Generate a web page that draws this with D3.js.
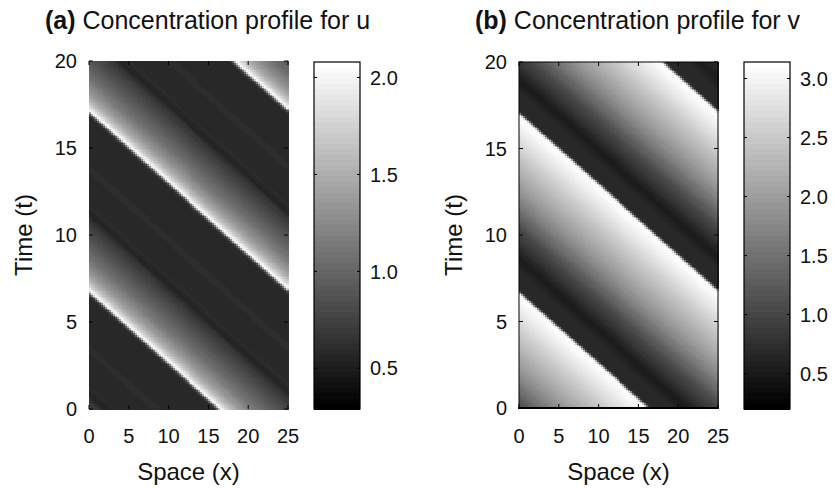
<!DOCTYPE html>
<html><head><meta charset="utf-8">
<script src="https://cdn.jsdelivr.net/npm/d3@7"></script>
<style>
html,body{margin:0;padding:0;background:#fff;}
text{font-family:"Liberation Sans",Arial,Helvetica,sans-serif;fill:#111;}
</style></head>
<body>
<svg id="chart" width="833" height="488"></svg>
<script>
// ---------------- DATA ----------------
const xTicks = [0, 5, 10, 15, 20, 25];
const tTicks = [0, 5, 10, 15, 20];
const uTicks = [0.5, 1.0, 1.5, 2.0];
const vTicks = [0.5, 1.0, 1.5, 2.0, 2.5, 3.0];
const uRange = [0.29, 2.08];
const vRange = [0.2, 3.14];
// wave fronts (time at which a front passes x = 0) and their slope dt/dx
const frontTimeAtX0 = 6.84;
const wavePeriod = 10.36;
const frontSlope = 0.41;
// profiles read along time-since-front (phase) at fixed x
const uPhase = [0, 0.1, 0.25, 0.5, 0.75, 1.0, 1.5, 2.0, 2.5, 3.0, 3.5, 4.0, 4.4, 4.8, 5.5, 7.0, 8.5, 9.5, 10.0, 10.15, 10.25, 10.32, 10.36];
const uValue = [2.08, 1.97, 1.80, 1.60, 1.46, 1.35, 1.19, 1.06, 0.96, 0.86, 0.77, 0.67, 0.54, 0.60, 0.585, 0.60, 0.585, 0.57, 0.585, 0.78, 1.34, 1.83, 2.08];
const vPhase = [0, 0.5, 1.2, 1.8, 2.3, 2.8, 3.5, 4.0, 5.0, 6.0, 7.0, 8.0, 9.0, 9.8, 10.1, 10.2, 10.28, 10.36];
const vValue = [0.70, 0.68, 0.66, 0.52, 0.66, 0.83, 1.03, 1.24, 1.64, 1.99, 2.28, 2.56, 2.85, 3.06, 3.11, 2.51, 1.35, 0.72];
const gridDx = 0.25, gridDt = 0.1;

// ---------------- DRAW ----------------
const svg = d3.select("#chart");
const grays = d3.range(64).map(i => { const g = Math.round(i / 63 * 255); return d3.rgb(g, g, g).formatHex(); });

const panels = [
  {id: "a", title: "(a)", rest: " Concentration profile for u", tx: 45,
   L: 89, R: 288, T: 61, B: 409, cbL: 314, cbR: 360, cbT: 62, cbB: 409,
   phase: uPhase, vals: uValue, range: uRange, cbTicks: uTicks, ylx: 32, frame: false},
  {id: "b", title: "(b)", rest: " Concentration profile for v", tx: 475,
   L: 519, R: 718, T: 62, B: 408, cbL: 744, cbR: 790, cbT: 62, cbB: 409,
   phase: vPhase, vals: vValue, range: vRange, cbTicks: vTicks, ylx: 462, frame: true}
];

const xsGrid = d3.range(0, 25, gridDx);
const tsGrid = d3.range(0, 20, gridDt);
const sub = [0.125, 0.375, 0.625, 0.875];

panels.forEach(p => {
  const x = d3.scaleLinear().domain([0, 25]).range([p.L, p.R]);
  const y = d3.scaleLinear().domain([0, 20]).range([p.B, p.T]);
  const profile = d3.scaleLinear().domain(p.phase).range(p.vals).clamp(true);
  const color = d3.scaleQuantize().domain(p.range).range(grays);
  const g = svg.append("g");

  const valueAt = (xx, t) => {
    const s = t + frontSlope * xx - frontTimeAtX0;
    const ph = ((s % wavePeriod) + wavePeriod) % wavePeriod;
    return profile(ph);
  };
  const cells = [];
  tsGrid.forEach(t => xsGrid.forEach(xx => {
    let acc = 0;
    sub.forEach(a => sub.forEach(b => { acc += valueAt(xx + a * gridDx, t + b * gridDt); }));
    cells.push({x: xx, t: t, v: acc / 16});
  }));
  g.append("g").attr("shape-rendering", "crispEdges")
    .selectAll("rect").data(cells).join("rect")
    .attr("x", d => x(d.x))
    .attr("y", d => y(d.t + gridDt))
    .attr("width", d => x(d.x + gridDx) - x(d.x) + 0.6)
    .attr("height", d => y(d.t) - y(d.t + gridDt) + 0.6)
    .attr("fill", d => color(Math.min(d.v, p.range[1] - 1e-6)));

  if (p.frame) {
    g.append("rect").attr("x", p.L).attr("y", p.T).attr("width", p.R - p.L).attr("height", p.B - p.T)
      .attr("fill", "none").attr("stroke", "#000").attr("stroke-width", 1);
    g.append("line").attr("x1", p.L - 1).attr("x2", p.R + 1).attr("y1", p.B).attr("y2", p.B)
      .attr("stroke", "#000").attr("stroke-width", 2.2);
  }
  const tl = 4;
  const tickG = g.append("g").attr("stroke", "#000").attr("stroke-width", 1);
  xTicks.forEach(v => {
    tickG.append("line").attr("x1", x(v)).attr("x2", x(v)).attr("y1", p.B).attr("y2", p.B - tl);
    tickG.append("line").attr("x1", x(v)).attr("x2", x(v)).attr("y1", p.T).attr("y2", p.T + tl);
  });
  tTicks.forEach(v => {
    tickG.append("line").attr("x1", p.L).attr("x2", p.L + tl).attr("y1", y(v)).attr("y2", y(v));
    tickG.append("line").attr("x1", p.R).attr("x2", p.R - tl).attr("y1", y(v)).attr("y2", y(v));
  });
  g.selectAll("text.xt").data(xTicks).join("text").attr("class", "xt")
    .attr("x", d => x(d)).attr("y", 443).attr("text-anchor", "middle")
    .style("font-size", "20px").text(d => d);
  g.selectAll("text.yt").data(tTicks).join("text").attr("class", "yt")
    .attr("x", p.L - 12).attr("y", d => y(d)).attr("dy", "0.36em").attr("text-anchor", "end")
    .style("font-size", "20px").text(d => d);
  g.append("text").attr("x", (p.L + p.R) / 2).attr("y", 480).attr("text-anchor", "middle")
    .style("font-size", "24px").text("Space (x)");
  g.append("text").attr("transform", `translate(${p.ylx},${(p.T + p.B) / 2}) rotate(-90)`)
    .attr("text-anchor", "middle").style("font-size", "24px").text("Time (t)");
  const tt = g.append("text").attr("x", p.tx).attr("y", 29).style("font-size", "25px");
  tt.append("tspan").style("font-weight", "bold").text(p.title);
  tt.append("tspan").text(p.rest);

  const cy = d3.scaleLinear().domain(p.range).range([p.cbB, p.cbT]);
  const levels = d3.range(64).map(i => ({
    lo: p.range[0] + (p.range[1] - p.range[0]) * i / 64,
    hi: p.range[0] + (p.range[1] - p.range[0]) * (i + 1) / 64, c: grays[i]}));
  g.append("g").attr("shape-rendering", "crispEdges").selectAll("rect").data(levels).join("rect")
    .attr("x", p.cbL).attr("width", p.cbR - p.cbL)
    .attr("y", d => cy(d.hi)).attr("height", d => cy(d.lo) - cy(d.hi) + 0.5)
    .attr("fill", d => d.c);
  g.append("rect").attr("x", p.cbL).attr("y", p.cbT).attr("width", p.cbR - p.cbL).attr("height", p.cbB - p.cbT)
    .attr("fill", "none").attr("stroke", "#000").attr("stroke-width", 1.2);
  const cbt = g.append("g").attr("stroke", "#000").attr("stroke-width", 1);
  p.cbTicks.forEach(v => {
    cbt.append("line").attr("x1", p.cbL).attr("x2", p.cbL + 3).attr("y1", cy(v)).attr("y2", cy(v));
    cbt.append("line").attr("x1", p.cbR).attr("x2", p.cbR - 3).attr("y1", cy(v)).attr("y2", cy(v));
  });
  g.selectAll("text.ct").data(p.cbTicks).join("text").attr("class", "ct")
    .attr("x", p.cbR + 10).attr("y", d => cy(d)).attr("dy", "0.36em")
    .style("font-size", "20px").text(d => d.toFixed(1));
});
</script>
</body></html>
